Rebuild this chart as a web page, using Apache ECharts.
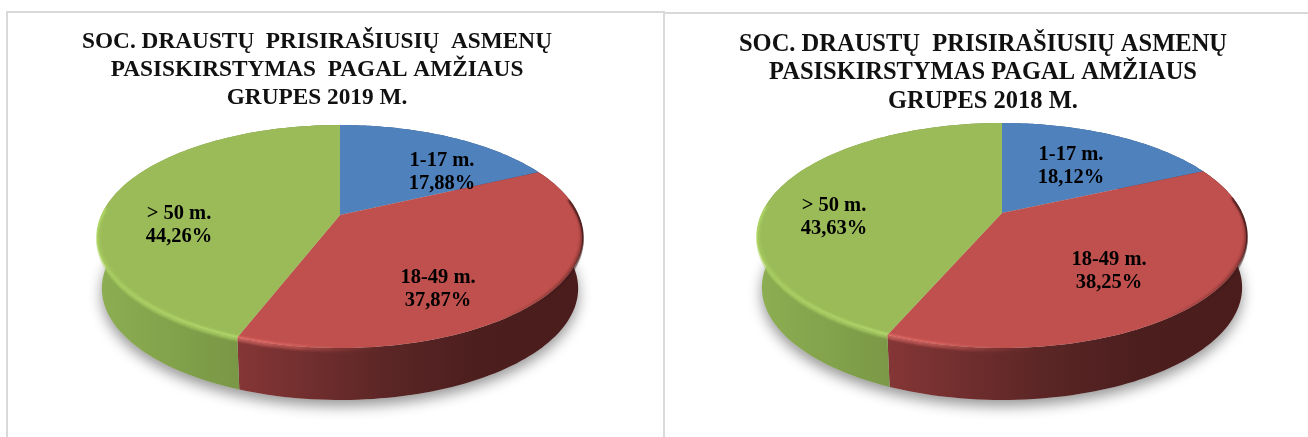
<!DOCTYPE html>
<html><head><meta charset="utf-8">
<style>html,body{margin:0;padding:0;background:#fff}#c{width:1308px;height:437px}</style>
<script src="https://cdn.jsdelivr.net/npm/echarts@6/dist/echarts.min.js"></script>
</head><body><div id="c"></div>
<script>
const categories = ['1-17 m.', '18-49 m.', '> 50 m.'];
const values2019 = [17.88, 37.87, 44.26];
const values2018 = [18.12, 38.25, 43.63];
const title2019 = 'SOC. DRAUSTŲ  PRISIRAŠIUSIŲ  ASMENŲ\nPASISKIRSTYMAS  PAGAL AMŽIAUS\nGRUPES 2019 M.';
const title2018 = 'SOC. DRAUSTŲ  PRISIRAŠIUSIŲ ASMENŲ\nPASISKIRSTYMAS PAGAL AMŽIAUS\nGRUPES 2018 M.';
const topColors = ['#4f81bd', '#c0504d', '#9bbb59'];
const FONT = '"Liberation Serif"';

const wallStops = [
  [[0, '#3d6088'], [1, '#2c4766']],
  [[0, '#853636'], [0.45, '#5a2525'], [0.7, '#4c1e1e'], [1, '#4a1c1c']],
  [[0, '#8dae52'], [0.5, '#7c9a47'], [1, '#6a863a']]
];
const rimLight = [
  [[0, 'rgba(120,160,210,A)'], [1, 'rgba(120,160,210,A)']],
  [[0, 'rgba(245,125,120,A)'], [0.15, 'rgba(230,108,103,A)'], [0.42, 'rgba(150,65,62,0.0)'], [0.75, 'rgba(80,30,30,0.0)'], [1, 'rgba(60,20,20,A)']],
  [[0, 'rgba(175,215,100,A)'], [0.3, 'rgba(185,225,105,A)'], [1, 'rgba(195,235,115,A)']]
];

function pieSeries(values, g) {
  const total = values.reduce((a, b) => a + b, 0);
  let acc = 0;
  const rows = values.map(v => { const r = [v, acc, total]; acc += v; return r; });
  const k = (g.front - g.back) / (g.front + g.back);
  const A = g.back * (1 + k);
  const R = g.rx * Math.sqrt(1 - k * k);
  const P = (th, r = 1) => {
    const X = r * Math.sin(th), Y = -r * Math.cos(th), d = 1 - k * Y;
    return [g.cx + R * X / d, g.cy + A * Y / d];
  };
  const down = (p, dy, s) => [g.cx + (p[0] - g.cx) * s, p[1] + dy];
  const arc = (a, b, r = 1, n = 90) => {
    const out = [];
    for (let i = 0; i <= n; i++) out.push(P(a + (b - a) * i / n, r));
    return out;
  };
  const lin = (x, x2, stops, alpha) => ({
    type: 'linear', x, y: 0, x2, y2: 0, global: true,
    colorStops: stops.map(s => ({ offset: s[0], color: alpha == null ? s[1] : s[1].replace('A', alpha) }))
  });
  const shadow = {
    type: 'custom', coordinateSystem: 'none', z: 1, silent: true,
    data: [[total]],
    renderItem: () => ({
      type: 'polygon', z2: 0,
      shape: { points: arc(0, Math.PI * 2, 1, 180).map(p => down(p, g.h, g.s)) },
      style: { fill: '#cfcfcf', shadowBlur: 14, shadowColor: 'rgba(0,0,0,0.42)', shadowOffsetY: 6 }
    })
  };
  const pie = {
    type: 'custom', coordinateSystem: 'none', z: 2, silent: true,
    data: rows,
    renderItem: (params, api) => {
      const i = params.dataIndex;
      const v = api.value(0), start = api.value(1), tot = api.value(2);
      const a = start / tot * Math.PI * 2, b = (start + v) / tot * Math.PI * 2;
      const rim = arc(a, b);
      const children = [];
      const wall = rim.concat(rim.slice().reverse().map(p => down(p, g.h, g.s)));
      const xs = wall.map(p => p[0]);
      children.push({
        type: 'polygon', z2: 1, shape: { points: wall },
        style: { fill: lin(Math.min(...xs), Math.max(...xs), wallStops[i]) }
      });
      children.push({
        type: 'polygon', z2: 2, shape: { points: [P(0, 0)].concat(rim) },
        style: { fill: topColors[i] }
      });
      const fa = Math.max(a, 1.42), fb = Math.min(b, 4.78);
      if (fb > fa) {
        const x0 = Math.min(...arc(fa, fb).map(p => p[0])), x1 = Math.max(...arc(fa, fb).map(p => p[0]));
        const bands = [[0.986, 0, 0.1], [0.992, 0, 0.25], [0.997, 0, 0.4], [1, 1, 0.55], [1, 2.5, 0.38], [1, 4, 0.15]];
        bands.forEach(([r, dy, al]) => {
          children.push({
            type: 'polyline', z2: 3,
            shape: { points: arc(fa, fb, r).map(p => [p[0], p[1] + dy]) },
            style: { fill: null, stroke: lin(x0, x1, rimLight[i], al), lineWidth: 1.6 }
          });
        });
      }
      children.push({
        type: 'text', z2: 5, x: g.labels[i][0], y: g.labels[i][1],
        style: {
          text: categories[i] + '\n' + v.toFixed(2).replace('.', ',') + '%',
          font: 'bold ' + g.labelSize + 'px ' + FONT, lineHeight: g.labelLH,
          fill: '#000', align: 'center', verticalAlign: 'middle'
        }
      });
      return { type: 'group', children };
    }
  };
  return [shadow, pie];
}

const titleStyle = (size, lh) => ({ fontFamily: FONT, fontWeight: 'bold', fontSize: size, lineHeight: lh, color: '#111' });
const rule = (x1, y1, x2, y2) => ({ type: 'line', shape: { x1, y1, x2, y2 }, style: { stroke: '#d9d9d9', lineWidth: 2 }, z: 0 });

const chart = echarts.init(document.getElementById('c'), null, { renderer: 'canvas' });
chart.setOption({
  animation: false,
  backgroundColor: '#fff',
  title: [
    { text: title2019, left: 317, top: 28, padding: 0, textAlign: 'center', textStyle: titleStyle(23.3, 28) },
    { text: title2018, left: 983, top: 30, padding: 0, textAlign: 'center', textStyle: titleStyle(24.5, 28.5) }
  ],
  graphic: [
    rule(7, 12, 663, 12), rule(7, 11, 7, 437), rule(664, 11, 664, 437), rule(665, 13, 1308, 13)
  ],
  series: [
    ...pieSeries(values2019, { cx: 340, cy: 215, back: 90, front: 133, rx: 243, h: 52, s: 0.98,
      labelSize: 20.5, labelLH: 23.5, labels: [[442, 172], [438, 289], [179, 225]] }),
    ...pieSeries(values2018, { cx: 1002, cy: 213, back: 90, front: 135, rx: 245, h: 52, s: 0.98,
      labelSize: 20.5, labelLH: 23.5, labels: [[1071, 166], [1109, 271], [834, 217]] })
  ]
});
</script></body></html>
